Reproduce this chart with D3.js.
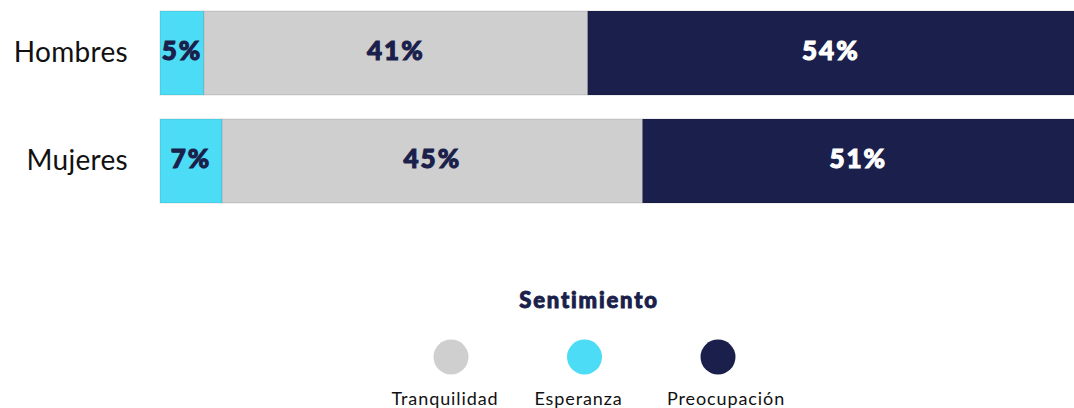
<!DOCTYPE html>
<html>
<head>
  <meta charset='utf-8'>
  <title>Sentimiento por género</title>
  <style>
    body { margin: 0; background: #fff; }
    .cat { font-family: Lato, "Open Sans", sans-serif; font-size: 28px; fill: #111; letter-spacing: 0.3px; }
    .val { font-family: Lato, "DejaVu Sans", sans-serif; font-weight: 900; font-size: 26px; letter-spacing: 2px; stroke-width: 1.1px; }
    .legend-title { font-family: Lato, "DejaVu Sans", sans-serif; font-weight: 900; font-size: 22px; fill: #1a1f4b; stroke: #1a1f4b; stroke-width: 0.9px; letter-spacing: 1.8px; }
    .legend-text { font-family: Lato, "Open Sans", sans-serif; font-size: 18px; fill: #111; letter-spacing: 0.9px; }
  </style>
</head>
<body>
<div id="chart"></div>
<script src="https://d3js.org/d3.v7.min.js"></script>
<script>
  // categories and series (bar shares, printed labels kept apart)
  const groups = ["Hombres", "Mujeres"];
  const series = ["Esperanza", "Tranquilidad", "Preocupación"];
  const esperanza = [4.8, 6.8];
  const tranquilidad = [42.0, 46.0];
  const preocupacion = [53.2, 47.2];
  const esperanzaLabels = ["5%", "7%"];
  const tranquilidadLabels = ["41%", "45%"];
  const preocupacionLabels = ["54%", "51%"];
  const legendOrder = ["Tranquilidad", "Esperanza", "Preocupación"];

  const COLORS = { "Esperanza": "#4ddcf5", "Tranquilidad": "#cfcfcf", "Preocupación": "#1a1f4b" };
  const LABEL_COLORS = { "Esperanza": "#1a1f4b", "Tranquilidad": "#1a1f4b", "Preocupación": "#ffffff" };

  const W = 1074, H = 408;
  const svg = d3.select("#chart").append("svg").attr("width", W).attr("height", H);

  const rows = groups.map(function (g, i) {
    return { group: g, "Esperanza": esperanza[i], "Tranquilidad": tranquilidad[i], "Preocupación": preocupacion[i],
      labels: { "Esperanza": esperanzaLabels[i], "Tranquilidad": tranquilidadLabels[i], "Preocupación": preocupacionLabels[i] } };
  });

  const x = d3.scaleLinear().domain([0, 100]).range([160, 1074]);
  const y = d3.scaleBand().domain(groups).range([11, 203]).paddingInner(0.222).paddingOuter(0);

  const stacked = d3.stack().keys(series)(rows);

  const layer = svg.append("g").selectAll("g")
    .data(stacked)
    .enter().append("g")
    .attr("fill", function (d) { return COLORS[d.key]; });

  layer.selectAll("rect")
    .data(function (d) { return d; })
    .enter().append("rect")
    .attr("x", function (d) { return x(d[0]); })
    .attr("y", function (d) { return y(d.data.group); })
    .attr("width", function (d) { return x(d[1]) - x(d[0]); })
    .attr("height", y.bandwidth())
    .attr("stroke", "rgba(0,0,0,0.12)")
    .attr("stroke-width", 1);

  // value labels
  stacked.forEach(function (s) {
    svg.append("g").selectAll("text")
      .data(s)
      .enter().append("text")
      .attr("class", "val")
      .attr("x", function (d) { return (x(d[0]) + x(d[1])) / 2; })
      .attr("y", function (d) { return y(d.data.group) + y.bandwidth() / 2 - 2; })
      .attr("dy", "0.35em")
      .attr("text-anchor", "middle")
      .attr("fill", LABEL_COLORS[s.key])
      .attr("stroke", LABEL_COLORS[s.key])
      .text(function (d) { return d.data.labels[s.key]; });
  });

  // category axis labels
  svg.append("g").selectAll("text")
    .data(groups)
    .enter().append("text")
    .attr("class", "cat")
    .attr("x", 128)
    .attr("y", function (d) { return y(d) + y.bandwidth() / 2 - 1; })
    .attr("dy", "0.35em")
    .attr("text-anchor", "end")
    .text(function (d) { return d; });

  // legend
  const legendX = d3.scalePoint().domain(legendOrder).range([451, 718]);
  svg.append("text")
    .attr("class", "legend-title")
    .attr("x", 589)
    .attr("y", 308)
    .attr("text-anchor", "middle")
    .text("Sentimiento");

  const item = svg.append("g").selectAll("g")
    .data(legendOrder)
    .enter().append("g")
    .attr("transform", function (d) { return "translate(" + legendX(d) + ",357)"; });
  item.append("circle")
    .attr("r", 17.5)
    .attr("fill", function (d) { return COLORS[d]; });
  item.append("text")
    .attr("class", "legend-text")
    .attr("x", function (d, i) { return [-6, -6, 8][i]; })
    .attr("y", 48)
    .attr("text-anchor", "middle")
    .text(function (d) { return d; });
</script>
</body>
</html>
